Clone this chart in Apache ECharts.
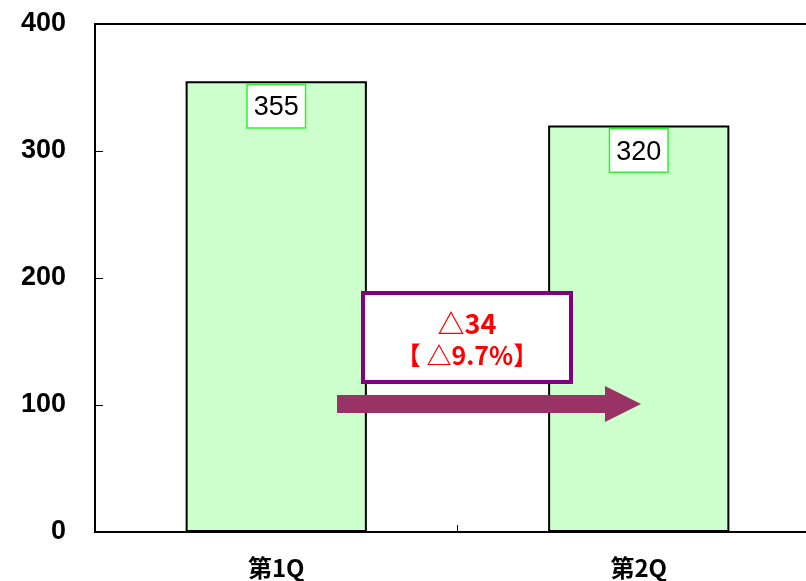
<!DOCTYPE html>
<html><head><meta charset="utf-8">
<script src="https://cdn.jsdelivr.net/npm/echarts@6/dist/echarts.min.js"></script>
<style>html,body{margin:0;padding:0;background:#fff}#c{width:806px;height:581px}</style>
</head><body><div id="c"></div>
<script>
var categories = ['第1Q', '第2Q'];
var values = [355, 320];
var yTicks = [0, 100, 200, 300, 400];
var diffText = ['△34', '【 △9.7%】'];

var chart = echarts.init(document.getElementById('c'));
chart.setOption({
  animation: false,
  grid: { left: 95, top: 24, bottom: 49, right: -14, outerBoundsMode: 'none', containLabel: false, show: true, borderColor: '#000', borderWidth: 2, backgroundColor: 'transparent' },
  xAxis: {
    type: 'category', data: categories,
    axisLine: { lineStyle: { color: '#000', width: 2 } },
    axisTick: { show: true, inside: true, length: 7, lineStyle: { color: '#000' } },
    axisLabel: { margin: 24, color: '#000', fontSize: 24, fontWeight: 'bold', fontFamily: 'Noto Sans CJK JP' }
  },
  yAxis: {
    type: 'value', min: yTicks[0], max: yTicks[yTicks.length - 1], interval: 100,
    splitLine: { show: false },
    axisLine: { show: true, lineStyle: { color: '#000', width: 2 } },
    axisTick: { show: true, inside: true, length: 8, lineStyle: { color: '#000' } },
    axisLabel: { margin: 29, color: '#000', fontSize: 27, fontWeight: 'bold', fontFamily: 'Liberation Sans' }
  },
  series: [{
    type: 'bar', data: values, barWidth: '50%',
    itemStyle: { color: '#ccffcc', borderColor: '#000', borderWidth: 2 },
    label: {
      show: true, position: 'insideTop', distance: 4,
      color: '#000', fontSize: 27, fontFamily: 'Liberation Sans', fontWeight: 500,
      backgroundColor: '#fff', borderColor: '#33ee33', borderWidth: 1.5,
      padding: [9, 6, 6, 6]
    }
  }],
  graphic: [
    { type: 'rect', shape: { x: 363, y: 293, width: 208, height: 89 }, style: { fill: '#fff', stroke: '#800080', lineWidth: 4 }, z: 10 },
    { type: 'text', x: 467, y: 324, style: { text: diffText[0], fill: '#ff0000', font: 'bold 27px "Noto Sans CJK JP"', align: 'center', verticalAlign: 'middle' }, z: 11 },
    { type: 'text', x: 467, y: 355, style: { text: diffText[1], fill: '#ff0000', font: 'bold 25px "Noto Sans CJK JP"', align: 'center', verticalAlign: 'middle' }, z: 11 },
    { type: 'polygon', shape: { points: [[337, 395], [605, 395], [605, 386], [641, 404], [605, 422], [605, 413], [337, 413]] }, style: { fill: '#993366' }, z: 10 }
  ]
});
</script></body></html>
